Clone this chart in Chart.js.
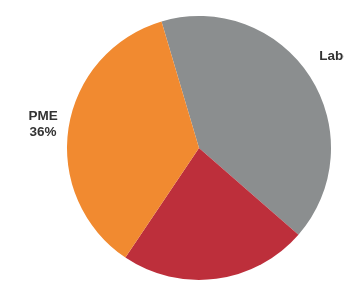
<!DOCTYPE html>
<html>
<head>
<meta charset="utf-8">
<script src="https://cdn.jsdelivr.net/npm/chart.js@4"></script>
<style>
  html, body { margin: 0; padding: 0; background: #fff; }
  #wrap { width: 344px; height: 288px; }
</style>
</head>
<body>
<div id="wrap"><canvas id="myChart"></canvas></div>
<script>
const categories = ['Laboratoires', 'Grandes entreprises', 'PME'];
const shares = [41, 23, 36];
const sliceColors = ['#8b8e8f', '#bd2f3b', '#f18a30'];

// draws "name / xx%" next to each slice
const sliceLabels = {
    id: 'sliceLabels',
    afterDatasetsDraw(chart) {
        const ctx = chart.ctx;
        const meta = chart.getDatasetMeta(0);
        ctx.save();
        ctx.font = 'bold 13.5px "Liberation Sans", Arial, sans-serif';
        ctx.fillStyle = '#333';
        ctx.textAlign = 'center';
        ctx.textBaseline = 'top';
        meta.data.forEach((arc, i) => {
            const mid = (arc.startAngle + arc.endAngle) / 2;
            const r = arc.outerRadius + 11;
            const x = arc.x + Math.cos(mid) * r;
            const y = arc.y + Math.sin(mid) * r;
            const lines = [categories[i], shares[i] + '%'];
            const lh = 16;
            const w = Math.max(...lines.map(l => ctx.measureText(l).width));
            let cx = x;
            let top;
            if (Math.abs(Math.cos(mid)) > 0.5) {
                cx = Math.cos(mid) > 0 ? x + w / 2 : x - w / 2;
                top = Math.sin(mid) < -0.4 ? y - 21 : y - 17;
            } else {
                top = Math.sin(mid) > 0 ? y - 1 : y - lines.length * lh;
            }
            lines.forEach((l, k) => ctx.fillText(l, cx, top + k * lh));
        });
        ctx.restore();
    }
};

new Chart(document.getElementById('myChart'), {
    type: 'pie',
    data: {
        labels: categories,
        datasets: [{
            data: shares,
            backgroundColor: sliceColors,
            borderWidth: 0
        }]
    },
    options: {
        responsive: true,
        maintainAspectRatio: false,
        animation: false,
        rotation: -16.5,
        layout: { padding: { left: 67, right: 13, top: 16, bottom: 8 } },
        plugins: {
            legend: { display: false },
            tooltip: { enabled: false }
        }
    },
    plugins: [sliceLabels]
});
</script>
</body>
</html>
